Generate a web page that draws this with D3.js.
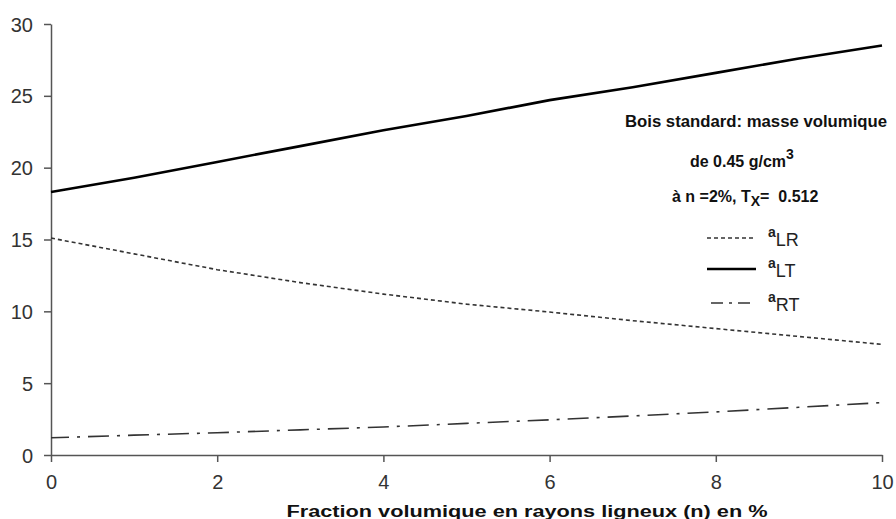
<!DOCTYPE html>
<html><head><meta charset="utf-8">
<script src="https://cdn.jsdelivr.net/npm/d3@7"></script>
<style>body{margin:0;background:#fff}svg{display:block}</style>
</head><body>
<svg id="c" width="896" height="519"></svg>
<script>
const nValues = [0,1,2,3,4,5,6,7,8,9,10];
const aLR = [15.1,14.0,12.9,12.0,11.2,10.5,9.95,9.35,8.8,8.25,7.7];
const aLT = [18.3,19.3,20.4,21.5,22.6,23.6,24.7,25.6,26.6,27.6,28.5];
const aRT = [1.2,1.38,1.55,1.75,1.95,2.2,2.45,2.72,3.0,3.32,3.65];
const xTicks = [0,2,4,6,8,10];
const yTicks = [0,5,10,15,20,25,30];

const svg = d3.select("#c");
const x = d3.scaleLinear().domain([0,10]).range([51,882]);
const y = d3.scaleLinear().domain([0,30]).range([455,24]);
const axisColor = "#555";

const gx = svg.append("g").attr("transform","translate(0,455)")
  .call(d3.axisBottom(x).tickValues(xTicks).tickSize(7).tickPadding(15).tickSizeOuter(0));
const gy = svg.append("g").attr("transform","translate(51,0)")
  .call(d3.axisLeft(y).tickValues(yTicks).tickSize(7).tickPadding(11).tickSizeOuter(0));
[gx,gy].forEach(g=>{
  g.select(".domain").attr("stroke",axisColor).attr("stroke-width",1.5);
  g.selectAll(".tick line").attr("stroke",axisColor).attr("stroke-width",1.5);
  g.selectAll(".tick text").attr("fill","#333").attr("font-family","Liberation Sans, Arial, sans-serif").attr("font-size",20);
});
gx.selectAll(".tick text").attr("dy","0.6em");
gy.selectAll(".tick text").attr("dy","0.35em");

const line = d3.line().x((d,i)=>x(nValues[i])).y(d=>y(d));
svg.append("path").datum(aLR).attr("d",line).attr("fill","none").attr("stroke","#333").attr("stroke-width",1.6).attr("stroke-dasharray","4,3");
svg.append("path").datum(aLT).attr("d",line).attr("fill","none").attr("stroke","#000").attr("stroke-width",2.6);
svg.append("path").datum(aRT).attr("d",line).attr("fill","none").attr("stroke","#333").attr("stroke-width",1.6).attr("stroke-dasharray","21,8,3,8").attr("stroke-dashoffset",-37);

const ff = "Liberation Sans Narrow, Liberation Sans, Arial, sans-serif";
// axis title
svg.append("text").attr("x",527).attr("y",517).attr("text-anchor","middle")
  .attr("font-family",ff).attr("font-weight","bold").attr("font-size",16).attr("fill","#111")
  .attr("textLength",481).attr("lengthAdjust","spacingAndGlyphs")
  .text("Fraction volumique en rayons ligneux (n) en %");

// annotation
svg.append("text").attr("x",756).attr("y",127).attr("text-anchor","middle")
  .attr("font-family",ff).attr("font-weight","bold").attr("font-size",16).attr("fill","#111")
  .attr("textLength",262).attr("lengthAdjust","spacingAndGlyphs")
  .text("Bois standard: masse volumique");
const t2 = svg.append("text").attr("x",690).attr("y",167)
  .attr("font-family",ff).attr("font-weight","bold").attr("font-size",16).attr("fill","#111");
t2.append("tspan").text("de 0.45 g/cm");
t2.append("tspan").attr("dy",-8).attr("font-size",14).text("3");
const t3 = svg.append("text").attr("x",672).attr("y",202)
  .attr("font-family",ff).attr("font-weight","bold").attr("font-size",16).attr("fill","#111");
t3.append("tspan").text("à n =2%, T");
t3.append("tspan").attr("dy",4).attr("font-size",14).text("X");
t3.append("tspan").attr("dy",-4).text("=\u00a0\u00a00.512");

// legend
const legend = [
  {name:"LR", dash:"4,3", w:1.6, c:"#333", yy:238},
  {name:"LT", dash:null, w:2.6, c:"#000", yy:269},
  {name:"RT", dash:"12,6,3,6", w:1.6, c:"#333", yy:303}
];
legend.forEach(l=>{
  const ln = svg.append("line").attr("x1",l.name==="RT"?711:707).attr("x2",756).attr("y1",l.yy).attr("y2",l.yy)
    .attr("stroke",l.c).attr("stroke-width",l.w);
  if(l.dash) ln.attr("stroke-dasharray",l.dash);
  const t = svg.append("text").attr("x",768).attr("y",l.yy-1)
    .attr("font-family","Liberation Sans, Arial, sans-serif").attr("font-size",14).attr("fill","#222");
  t.append("tspan").attr("font-weight","bold").text("a");
  t.append("tspan").attr("dy",9).attr("font-size",18).text(l.name);
});
</script>
</body></html>
